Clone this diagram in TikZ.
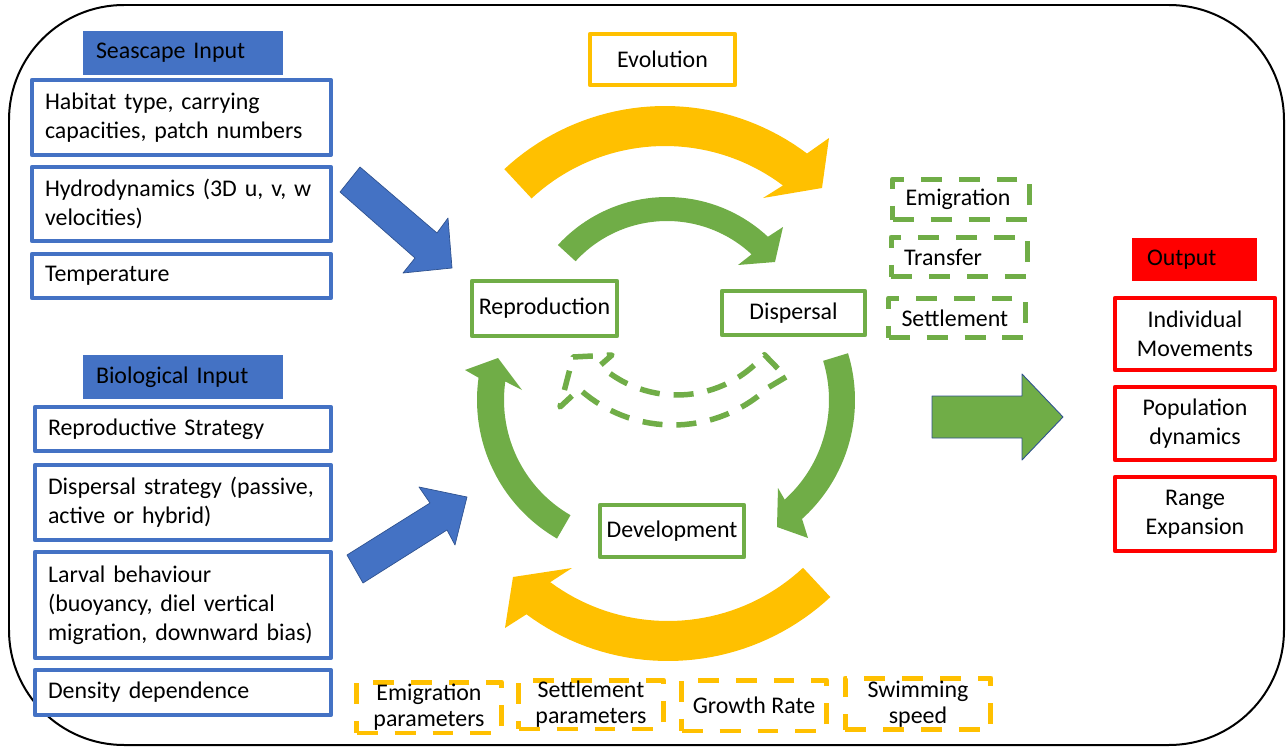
\documentclass[tikz,border=0pt]{standalone}
\usepackage{fontspec}
\setmainfont{Carlito}
\definecolor{sblue}{HTML}{4472C4}
\definecolor{dblue}{HTML}{2F528F}
\definecolor{lgreen}{HTML}{70AD47}
\definecolor{amber}{HTML}{FFC000}

\begin{document}
\begin{tikzpicture}[x=0.02cm,y=-0.02cm,line join=round,
  font=\fontsize{13.6}{16.4}\selectfont,
  plainbox/.style={fill=white,line width=0.085cm,inner ysep=0pt},
  inbox/.style={plainbox,draw=sblue,align=left,inner xsep=0.26cm},
  head/.style={align=left,inner xsep=0.26cm,inner ysep=0pt,minimum height=0.87cm},
  cyclebox/.style={plainbox,draw=lgreen,align=center,inner xsep=2pt},
  stagebox/.style={plainbox,draw=lgreen,line width=0.1cm,dash pattern=on 0.42cm off 0.34cm,
    align=left,inner xsep=0.26cm,text width=2.22cm,minimum height=0.8cm},
  parbox/.style={plainbox,draw=amber,line width=0.1cm,dash pattern=on 0.42cm off 0.34cm,
    align=center,inner xsep=2pt,minimum width=2.9cm,minimum height=1.02cm,
    font=\fontsize{13.6}{14.8}\selectfont},
  outbox/.style={plainbox,draw=red,align=center,minimum width=3.2cm},
  blockarrow/.style={fill=sblue,draw=dblue,line width=0.4pt}]

\useasboundingbox (0,0) rectangle (1286,747);
\draw[line width=0.04cm,rounded corners=2.3cm] (9,5) rectangle (1284,745);

%% ---------------- inputs on the left ----------------
\node[head,fill=sblue,text width=3.48cm] (seahead) at (183,53) {Seascape Input};
\node[inbox,text width=5.46cm,minimum height=1.5cm] (habitat) at (181.5,117.5)
  {Habitat type, carrying\\capacities, patch numbers};
\node[inbox,text width=5.46cm,minimum height=1.48cm] (hydro) at (181.5,204)
  {Hydrodynamics (3D u, v, w\\velocities)};
\node[inbox,text width=5.46cm,minimum height=0.88cm] (temp) at (181.5,276) {Temperature};

\node[head,fill=sblue,text width=3.48cm] (biohead) at (183,377) {Biological Input};
\node[inbox,text width=5.40cm,minimum height=0.88cm] (repstrat) at (183,429)
  {Reproductive Strategy};
\node[inbox,text width=5.40cm,minimum height=1.5cm] (dispstrat) at (183,502.5)
  {Dispersal strategy (passive,\\active or hybrid)};
\node[inbox,text width=5.40cm,minimum height=2.12cm] (larval) at (183,605)
  {Larval behaviour\\(buoyancy, diel vertical\\migration, downward bias)};
\node[inbox,text width=5.40cm,minimum height=0.9cm] (density) at (183,692.5)
  {Density dependence};

%% the two feeds into the cycle
\path[blockarrow] (340,192) -- (360,167) -- (437,233) -- (448,218) -- (452,268)
  -- (403,273) -- (415,258) -- cycle;
\path[blockarrow] (347,555) -- (430,503) -- (419,487) -- (467,497) -- (455,545)
  -- (447,530) -- (363,583) -- cycle;

%% ---------------- evolution loop (amber) ----------------
\node[cyclebox,draw=amber,minimum width=2.9cm,minimum height=1.02cm] (evol)
  at (662.5,59.5) {Evolution};
\fill[amber] plot[domain=-132.9:-53,samples=40] ({665+236*cos(\x)},{342+236*sin(\x)})
  -- (829,138) -- (822,188) -- (763,198)
  -- plot[domain=-53:-132.9,samples=40] ({665+196*cos(\x)},{342+196*sin(\x)}) -- cycle;
\fill[amber] plot[domain=47:126.5,samples=40] ({668+238*cos(\x)},{423+238*sin(\x)})
  -- (505,628) -- (513,577) -- (572,568)
  -- plot[domain=126.5:47,samples=40] ({668+198*cos(\x)},{423+198*sin(\x)}) -- cycle;

%% ---------------- life cycle (green) ----------------
\fill[lgreen] plot[domain=-137.5:-47,samples=40] ({667+148*cos(\x)},{345+148*sin(\x)})
  -- (783,227) -- (775,262) -- (738,265)
  -- plot[domain=-47:-137.5,samples=40] ({667+124*cos(\x)},{345+124*sin(\x)}) -- cycle;
\fill[lgreen] plot[domain=-17:48,samples=40] ({695+160*cos(\x)},{400+160*sin(\x)})
  -- (808,538) -- (777,527) -- (778,488)
  -- plot[domain=48:-17,samples=40] ({695+134*cos(\x)},{400+134*sin(\x)}) -- cycle;
\fill[lgreen] plot[domain=120:188,samples=40] ({637+160*cos(\x)},{400+160*sin(\x)})
  -- (465,370) -- (498,358) -- (522,390)
  -- plot[domain=188:120,samples=40] ({637+133*cos(\x)},{400+133*sin(\x)}) -- cycle;
%% dashed way back from dispersal
\draw[lgreen,line width=0.11cm,dash pattern=on 0.4cm off 0.28cm] (786,377)
  -- plot[domain=47:132,samples=30] ({673+140*cos(\x)},{285+140*sin(\x)})
  -- (560,407) -- (573,357) -- (612,355)
  -- plot[domain=132:40.5,samples=30] ({677+115*cos(\x)},{280+115*sin(\x)}) -- cycle;

\node[cyclebox,minimum width=2.9cm,minimum height=1.1cm] (repro) at (544.5,308.5)
  {Reproduction};
\node[cyclebox,minimum width=2.86cm,minimum height=0.88cm] (disp) at (793.5,313)
  {Dispersal};
\node[cyclebox,minimum width=2.88cm,minimum height=1.04cm] (devel) at (672,531)
  {Development};

%% dispersal stages
\node[stagebox,minimum height=0.82cm] (emig) at (961,199.5) {Emigration};
\node[stagebox] (transfer) at (959.5,257) {Transfer};
\node[stagebox] (settle) at (957,318) {Settlement};

%% parameters along the bottom
\node[parbox] (emigpar) at (429,707.5) {Emigration\\parameters};
\node[parbox,minimum height=0.98cm] (settlepar) at (591,704.5) {Settlement\\parameters};
\node[parbox] (growth) at (754,705.5) {Growth Rate};
\node[parbox,minimum width=2.92cm,minimum height=1.04cm] (swim) at (918,704)
  {Swimming\\speed};

%% ---------------- outputs on the right ----------------
\path[fill=lgreen,draw=dblue,line width=0.5pt] (932,396) -- (1022,396) -- (1022,374)
  -- (1063,417) -- (1022,460) -- (1022,438) -- (932,438) -- cycle;

\node[head,fill=red,text width=1.9cm,inner xsep=0.3cm] (outhead) at (1194.5,259.5) {Output};
\node[outbox,minimum height=1.44cm] (indiv) at (1195,334) {Individual\\Movements};
\node[outbox,minimum height=1.46cm] (popdyn) at (1195,423.5) {Population\\dynamics};
\node[outbox,minimum height=1.48cm] (range) at (1195,514) {Range\\Expansion};

\end{tikzpicture}
\end{document}
